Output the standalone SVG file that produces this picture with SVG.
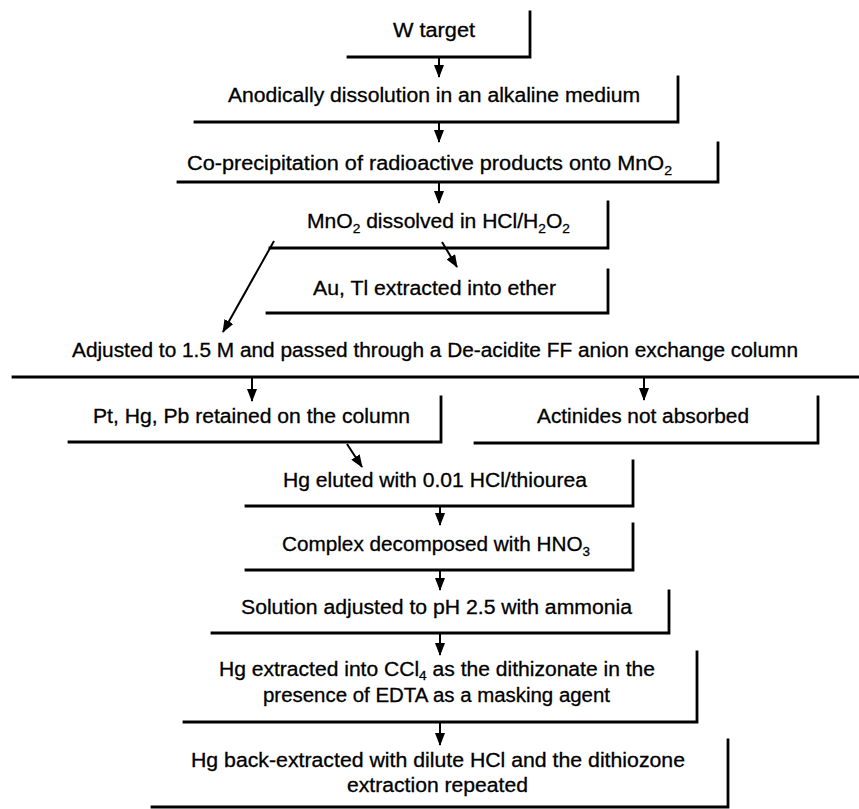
<svg xmlns="http://www.w3.org/2000/svg" width="859" height="809" viewBox="0 0 859 809">
<style>
.frame{fill:none;stroke:#000;stroke-width:2.8;stroke-linecap:square}
.conn line{stroke:#000;stroke-width:2}
text{font-family:"Liberation Sans",Arial,sans-serif;font-size:20px;fill:#000;stroke:#000;stroke-width:0.3}
.sub{font-size:13px}
</style>
<defs>
<marker id="ahd" markerUnits="userSpaceOnUse" markerWidth="13" markerHeight="10" viewBox="0 0 13 10" refX="12" refY="5" orient="auto">
<path d="M0,0 L13,5 L0,10 Z" fill="#000"/>
</marker>
</defs>
<rect width="859" height="809" fill="#fff"/>

<g id="n1"><path class="frame" d="M348,57 H530 V12"/><text x="393" y="37" textLength="82" lengthAdjust="spacingAndGlyphs">W target</text></g>
<g id="n2"><path class="frame" d="M195,122 H678 V77"/><text x="228" y="102" textLength="412" lengthAdjust="spacingAndGlyphs">Anodically dissolution in an alkaline medium</text></g>
<g id="n3"><path class="frame" d="M178,182 H718 V143"/><text x="187" y="170" textLength="485" lengthAdjust="spacingAndGlyphs">Co-precipitation of radioactive products onto MnO<tspan class="sub" dy="5">2</tspan></text></g>
<g id="n4"><path class="frame" d="M270,248 H608 V202"/><text x="307" y="228" textLength="263" lengthAdjust="spacingAndGlyphs">MnO<tspan class="sub" dy="5">2</tspan><tspan dy="-5"> dissolved in HCl/H</tspan><tspan class="sub" dy="5">2</tspan><tspan dy="-5">O</tspan><tspan class="sub" dy="5">2</tspan></text></g>
<g id="n5"><path class="frame" d="M267,313 H608 V270"/><text x="313" y="295" textLength="243" lengthAdjust="spacingAndGlyphs">Au, Tl extracted into ether</text></g>
<g id="n6"><path class="frame" d="M13,377 H859"/><text x="72" y="357" textLength="726" lengthAdjust="spacingAndGlyphs">Adjusted to 1.5 M and passed through a De-acidite FF anion exchange column</text></g>
<g id="n7"><path class="frame" d="M69,442 H441 V397"/><text x="93" y="423" textLength="317" lengthAdjust="spacingAndGlyphs">Pt, Hg, Pb retained on the column</text></g>
<g id="n8"><path class="frame" d="M475,443 H818 V397"/><text x="537" y="423" textLength="212" lengthAdjust="spacingAndGlyphs">Actinides not absorbed</text></g>
<g id="n9"><path class="frame" d="M246,506 H633 V461"/><text x="283" y="487" textLength="304" lengthAdjust="spacingAndGlyphs">Hg eluted with 0.01 HCl/thiourea</text></g>
<g id="n10"><path class="frame" d="M246,570 H633 V524"/><text x="282" y="551" textLength="308" lengthAdjust="spacingAndGlyphs">Complex decomposed with HNO<tspan class="sub" dy="5">3</tspan></text></g>
<g id="n11"><path class="frame" d="M212,633 H669 V591"/><text x="241" y="614" textLength="391" lengthAdjust="spacingAndGlyphs">Solution adjusted to pH 2.5 with ammonia</text></g>
<g id="n12"><path class="frame" d="M184,722 H697 V652"/><text x="219" y="676" textLength="436" lengthAdjust="spacingAndGlyphs">Hg extracted into CCl<tspan class="sub" dy="4">4</tspan><tspan dy="-4"> as the dithizonate in the</tspan></text><text x="263" y="702" font-size="19" textLength="347" lengthAdjust="spacingAndGlyphs">presence of EDTA as a masking agent</text></g>
<g id="n13"><path class="frame" d="M152,807 H728 V740"/><text x="191" y="767" textLength="494" lengthAdjust="spacingAndGlyphs">Hg back-extracted with dilute HCl and the dithiozone</text><text x="347" y="792" textLength="181" lengthAdjust="spacingAndGlyphs">extraction repeated</text></g>

<g id="connectors" class="conn">
<line x1="439" y1="57" x2="439" y2="77" marker-end="url(#ahd)"/>
<line x1="439" y1="122" x2="439" y2="142" marker-end="url(#ahd)"/>
<line x1="439" y1="182" x2="439" y2="203" marker-end="url(#ahd)"/>
<line x1="442" y1="242" x2="457" y2="267" marker-end="url(#ahd)"/>
<line x1="274" y1="241" x2="223" y2="332" marker-end="url(#ahd)"/>
<line x1="252" y1="377" x2="252" y2="401" marker-end="url(#ahd)"/>
<line x1="644" y1="377" x2="644" y2="400" marker-end="url(#ahd)"/>
<line x1="347" y1="444" x2="362" y2="467" marker-end="url(#ahd)"/>
<line x1="440" y1="506" x2="440" y2="525" marker-end="url(#ahd)"/>
<line x1="440" y1="570" x2="440" y2="590" marker-end="url(#ahd)"/>
<line x1="440" y1="633" x2="440" y2="655" marker-end="url(#ahd)"/>
<line x1="440" y1="722" x2="440" y2="745" marker-end="url(#ahd)"/>
</g>
</svg>
